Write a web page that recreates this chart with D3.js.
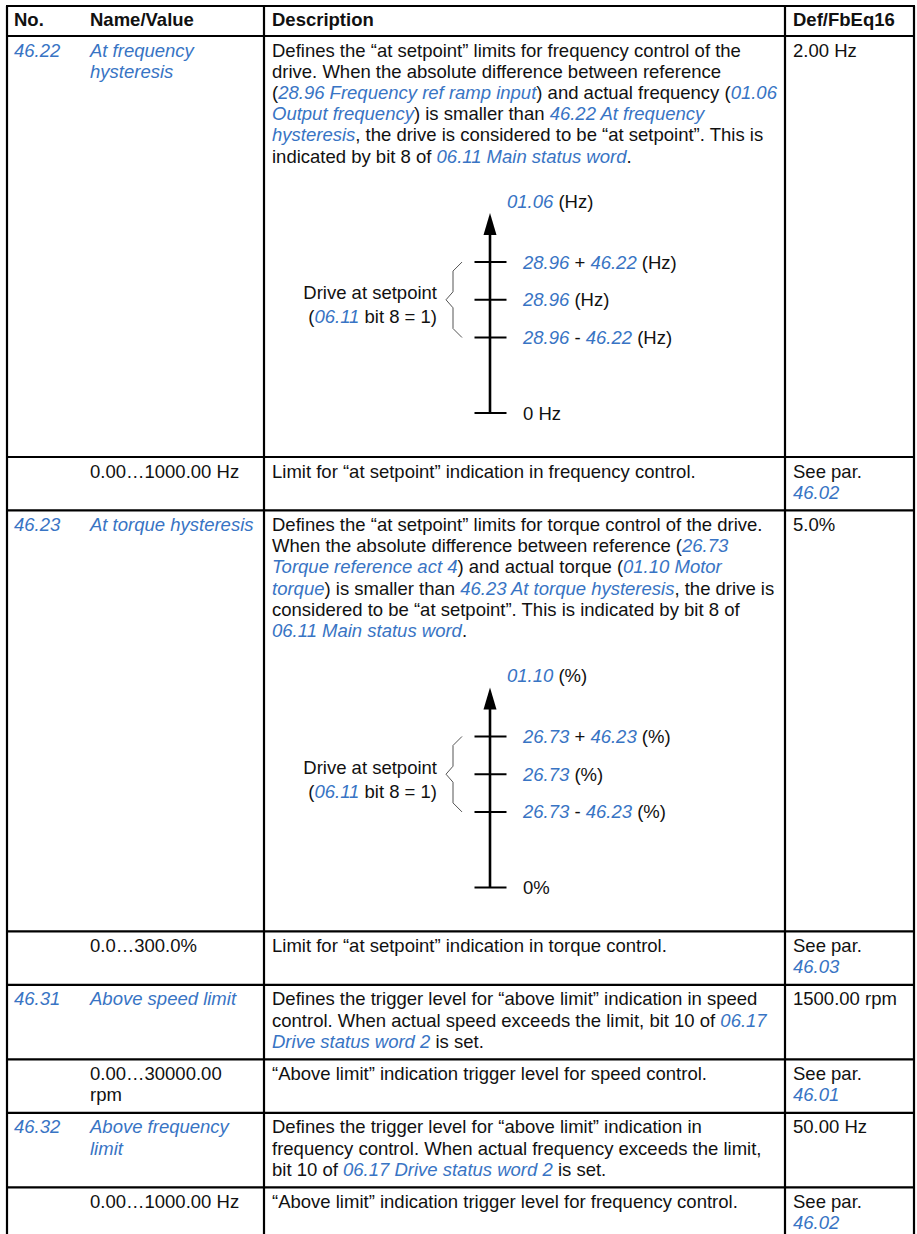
<!DOCTYPE html>
<html>
<head>
<meta charset="utf-8">
<script src="https://cdn.jsdelivr.net/npm/d3@7"></script>
<style>
  html, body { margin: 0; padding: 0; background: #fff; }
  svg { display: block; }
  text { font-family: "Liberation Sans", Arial, sans-serif; font-size: 18.5px; fill: #111; }
</style>
</head>
<body>
<svg id="chart" width="917" height="1234"></svg>
<script>
// ---------- DATA ----------
// {…} marks a cross-reference (blue italic)
const headers = ["No.", "Name/Value", "Description", "Def/FbEq16"];

const rowNumbers = ["{46.22}", "", "{46.23}", "", "{46.31}", "", "{46.32}", ""];

const rowNames = [
  ["{At frequency}", "{hysteresis}"],
  ["0.00…1000.00 Hz"],
  ["{At torque hysteresis}"],
  ["0.0…300.0%"],
  ["{Above speed limit}"],
  ["0.00…30000.00", "rpm"],
  ["{Above frequency}", "{limit}"],
  ["0.00…1000.00 Hz"]
];

const rowDescriptions = [
  ["Defines the “at setpoint” limits for frequency control of the",
   "drive. When the absolute difference between reference",
   "({28.96 Frequency ref ramp input}) and actual frequency ({01.06}",
   "{Output frequency}) is smaller than {46.22 At frequency}",
   "{hysteresis}, the drive is considered to be “at setpoint”. This is",
   "indicated by bit 8 of {06.11 Main status word}."],
  ["Limit for “at setpoint” indication in frequency control."],
  ["Defines the “at setpoint” limits for torque control of the drive.",
   "When the absolute difference between reference ({26.73}",
   "{Torque reference act 4}) and actual torque ({01.10 Motor}",
   "{torque}) is smaller than {46.23 At torque hysteresis}, the drive is",
   "considered to be “at setpoint”. This is indicated by bit 8 of",
   "{06.11 Main status word}."],
  ["Limit for “at setpoint” indication in torque control."],
  ["Defines the trigger level for “above limit” indication in speed",
   "control. When actual speed exceeds the limit, bit 10 of {06.17}",
   "{Drive status word 2} is set."],
  ["“Above limit” indication trigger level for speed control."],
  ["Defines the trigger level for “above limit” indication in",
   "frequency control. When actual frequency exceeds the limit,",
   "bit 10 of {06.17 Drive status word 2} is set."],
  ["“Above limit” indication trigger level for frequency control."]
];

const rowDefaults = [
  ["2.00 Hz"], ["See par.", "{46.02}"], ["5.0%"], ["See par.", "{46.03}"],
  ["1500.00 rpm"], ["See par.", "{46.01}"], ["50.00 Hz"], ["See par.", "{46.02}"]
];

// diagram contents (row index -> labels)
const diagramRows = [0, 2];
const diagramTitles = ["{01.06} (Hz)", "{01.10} (%)"];
const diagramTickLabels = [
  ["0 Hz", "{28.96} - {46.22} (Hz)", "{28.96} (Hz)", "{28.96} + {46.22} (Hz)"],
  ["0%", "{26.73} - {46.23} (%)", "{26.73} (%)", "{26.73} + {46.23} (%)"]
];
const diagramTickLevels = [0, 2, 3, 4];   // zero, lower limit, setpoint, upper limit
const diagramAxisTop = 5.3;
const diagramBandLabel = ["Drive at setpoint", "({06.11} bit 8 = 1)"];

// ---------- LAYOUT ----------
const BLUE = "#3874c4";
const LH = 21.2;
const tableTop = 6, headerH = 30, diagramRowH = 421;
const colEdges = [7, 264, 785, 914];
const colText = d3.scaleOrdinal().domain([0, 1, 2, 3]).range([14, 90, 272, 793]);

const svg = d3.select("#chart");

function parseSegs(str) {
  const segs = [];
  const re = /\{([^}]*)\}/g;
  let last = 0, m;
  while ((m = re.exec(str)) !== null) {
    if (m.index > last) segs.push({ t: str.slice(last, m.index), link: false });
    segs.push({ t: m[1], link: true });
    last = re.lastIndex;
  }
  if (last < str.length) segs.push({ t: str.slice(last), link: false });
  return segs;
}

function richLine(g, x, y, str, anchor) {
  const t = g.append("text").attr("x", x).attr("y", y)
    .attr("text-anchor", anchor || "start").attr("xml:space", "preserve");
  t.selectAll("tspan").data(parseSegs(str)).join("tspan")
    .text(d => d.t)
    .attr("fill", d => d.link ? BLUE : "#111")
    .attr("font-style", d => d.link ? "italic" : "normal");
  return t;
}

function richLines(g, x, y0, lines) {
  lines.forEach((l, i) => richLine(g, x, y0 + i * LH, l));
}

// row heights
const rowHeights = rowDescriptions.map((d, i) => {
  if (diagramRows.includes(i)) return diagramRowH;
  const n = Math.max(d.length, rowNames[i].length, rowDefaults[i].length, 2);
  return 11 + n * LH;
});
const rowTops = [];
let acc = tableTop + headerH;
rowHeights.forEach(h => { rowTops.push(acc); acc += h; });

// header
headers.forEach((h, i) => {
  svg.append("text").attr("x", colText(i)).attr("y", tableTop + 20)
    .attr("font-weight", "bold").text(h);
});

// rows
const rowsG = svg.append("g");
rowDescriptions.forEach((desc, i) => {
  const g = rowsG.append("g");
  const y0 = rowTops[i] + 20.5;
  if (rowNumbers[i]) richLine(g, colText(0), y0, rowNumbers[i]);
  richLines(g, colText(1), y0, rowNames[i]);
  richLines(g, colText(2), y0, desc);
  richLines(g, colText(3), y0, rowDefaults[i]);
});

// diagrams
const axisX = 490;
const yLevel = d3.scaleLinear().domain([0, diagramAxisTop]).range([377, 177]);
diagramRows.forEach((ri, k) => {
  const g = svg.append("g").attr("transform", `translate(0,${rowTops[ri]})`);
  const tip = yLevel(diagramAxisTop);
  // axis line
  g.append("line").attr("x1", axisX).attr("x2", axisX)
    .attr("y1", yLevel(0)).attr("y2", tip + 20)
    .attr("stroke", "#000").attr("stroke-width", 2.6);
  // arrow head
  g.append("path")
    .attr("d", `M${axisX},${tip} L${axisX - 6.5},${tip + 22} L${axisX + 6.5},${tip + 22} Z`)
    .attr("fill", "#000");
  // title
  richLine(g, 507, tip - 5, diagramTitles[k]);
  // ticks
  g.selectAll("line.tick").data(diagramTickLevels).join("line")
    .attr("class", "tick")
    .attr("x1", axisX - 15.5).attr("x2", axisX + 16.5)
    .attr("y1", d => yLevel(d)).attr("y2", d => yLevel(d))
    .attr("stroke", "#000").attr("stroke-width", 2);
  diagramTickLevels.forEach((lv, j) => {
    richLine(g, 523, yLevel(lv) + 6.5, diagramTickLabels[k][j]);
  });
  // brace
  const y1 = yLevel(diagramTickLevels[3]), y2 = yLevel(diagramTickLevels[1]);
  const ym = yLevel(diagramTickLevels[2]);
  const xr = 462, xm = 453, xt = 446;
  g.append("path")
    .attr("d", `M${xr},${y1} L${xm},${y1 + 9} L${xm},${ym - 8} L${xt},${ym} L${xm},${ym + 8} L${xm},${y2 - 9} L${xr},${y2}`)
    .attr("fill", "none").attr("stroke", "#555").attr("stroke-width", 1);
  // band label
  richLine(g, 437, ym - 0.5, diagramBandLabel[0], "end");
  richLine(g, 437, ym + 23.5, diagramBandLabel[1], "end");
});

// grid lines
const gridG = svg.append("g").attr("stroke", "#000").attr("stroke-width", 2.2);
const hLines = [tableTop, tableTop + headerH].concat(rowTops.slice(1));
gridG.selectAll("line.h").data(hLines).join("line")
  .attr("x1", colEdges[0] - 1).attr("x2", colEdges[3] + 1)
  .attr("y1", d => d).attr("y2", d => d);
gridG.selectAll("line.v").data(colEdges).join("line")
  .attr("x1", d => d).attr("x2", d => d)
  .attr("y1", tableTop).attr("y2", 1234);
</script>
</body>
</html>
